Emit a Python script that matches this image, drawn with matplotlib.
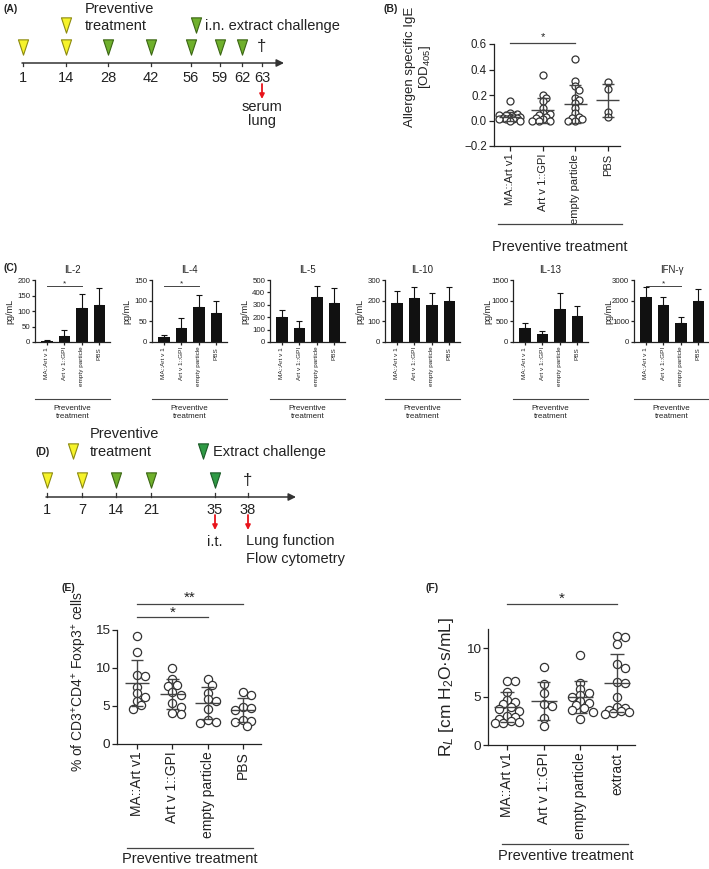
import numpy as np
import matplotlib
matplotlib.use('Agg')
import matplotlib.pyplot as plt
from matplotlib.path import Path

plt.rcParams['font.family'] = ['Liberation Sans', 'DejaVu Sans']
plt.rcParams['mathtext.fontset'] = 'custom'
plt.rcParams['mathtext.rm'] = 'Liberation Sans'
plt.rcParams['mathtext.it'] = 'Liberation Sans:italic'
plt.rcParams['mathtext.bf'] = 'Liberation Sans:bold'

# ---------------- DATA ----------------
# (A) timeline
A_days = [1, 14, 28, 42, 56, 59, 62, 63]
A_prev_days = [1, 14]
A_chal_days = [28, 42, 56, 59, 62]
A_end_day = 63
A_samples = ['serum', 'lung']

# (B) allergen specific IgE
B_groups = ['MA::Art v1', 'Art v 1::GPI', 'empty particle', 'PBS']
B_ma = [0.15, 0.06, 0.05, 0.04, 0.04, 0.03, 0.03, 0.02, 0.02, 0.02, 0.01, 0.01, 0.01, 0.0, 0.0]
B_gpi = [0.36, 0.20, 0.18, 0.15, 0.10, 0.06, 0.05, 0.04, 0.03, 0.02, 0.01, 0.0, 0.0, 0.0]
B_empty = [0.48, 0.31, 0.27, 0.24, 0.18, 0.16, 0.14, 0.10, 0.06, 0.03, 0.02, 0.01, 0.0, 0.0]
B_pbs = [0.30, 0.25, 0.07, 0.03]
B_mean = [0.03, 0.08, 0.13, 0.16]
B_sd = [0.035, 0.10, 0.15, 0.13]

# (C) cytokines
C_groups = ['MA::Art v 1', 'Art v 1::GPI', 'empty particle', 'PBS']
C_names = ['IL-2', 'IL-4', 'IL-5', 'IL-10', 'IL-13', 'IFN-γ']
C_mean = [[2, 19, 110, 118],
          [13, 35, 84, 71],
          [200, 112, 360, 312],
          [190, 212, 180, 200],
          [350, 190, 790, 620],
          [2200, 1780, 940, 1970]]
C_err = [[5, 20, 45, 57],
         [5, 24, 30, 27],
         [60, 55, 95, 120],
         [55, 55, 55, 65],
         [115, 80, 390, 260],
         [480, 400, 290, 600]]
C_ymax = [200, 150, 500, 300, 1500, 3000]
C_ystep = [50, 50, 100, 100, 500, 1000]
C_sig = [True, True, False, False, False, True]

# (D) timeline
D_days = [1, 7, 14, 21, 35, 38]
D_prev_days = [1, 7]
D_green_days = [14, 21]
D_chal_days = [35]
D_end_day = 38

# (E) Treg
E_groups = ['MA::Art v1', 'Art v 1::GPI', 'empty particle', 'PBS']
E_ma = [14.2, 12.1, 9.1, 8.9, 7.5, 6.7, 6.2, 5.7, 5.1, 4.6]
E_gpi = [10.0, 8.5, 7.8, 7.6, 6.9, 6.5, 5.4, 4.9, 4.1, 4.0]
E_empty = [8.5, 7.8, 6.7, 5.9, 5.6, 4.6, 3.2, 2.9, 2.8]
E_pbs = [6.9, 6.5, 4.9, 4.7, 4.5, 3.1, 3.0, 2.9, 2.4]
E_mean = [8.0, 6.55, 5.35, 4.45]
E_sd = [3.0, 2.0, 2.1, 1.55]

# (F) lung resistance
F_groups = ['MA::Art v1', 'Art v 1::GPI', 'empty particle', 'extract']
F_ma = [6.6, 6.6, 5.5, 4.7, 4.4, 4.2, 3.9, 3.7, 3.5, 3.0, 2.9, 2.7, 2.5, 2.4, 2.3, 2.3]
F_gpi = [8.1, 6.3, 5.4, 4.2, 4.0, 2.8, 2.0]
F_empty = [9.3, 6.4, 5.8, 5.4, 5.2, 5.0, 4.6, 4.3, 4.1, 3.8, 3.6, 3.4, 2.7]
F_extract = [11.3, 11.2, 10.5, 8.4, 8.0, 6.5, 6.4, 5.0, 3.9, 3.8, 3.6, 3.5, 3.4, 3.3, 3.2]
F_mean = [3.9, 4.55, 4.95, 6.4]
F_sd = [1.55, 1.95, 1.65, 3.0]

# ---------------- LAYOUT ----------------
W, H = 709, 869
fig = plt.figure(figsize=(W / 100, H / 100), dpi=100)
INK = '#222222'
LW = 0.9
YEL, YEL_E = '#f6f32a', '#8c8a10'
GRN, GRN_E = '#6fb02c', '#3b6614'
DGR, DGR_E = '#2f9a45', '#1b5a27'


def px_axes(x0, y0, x1, y1):
    return fig.add_axes([x0 / W, 1 - y1 / H, (x1 - x0) / W, (y1 - y0) / H])


def style(ax, fs_y, fs_x, tlen=3):
    for s in ['top', 'right']:
        ax.spines[s].set_visible(False)
    for s in ['left', 'bottom']:
        ax.spines[s].set_color(INK)
        ax.spines[s].set_linewidth(LW)
    ax.tick_params(axis='both', colors=INK, width=LW, length=tlen)
    ax.tick_params(axis='y', labelsize=fs_y, pad=1.5)
    ax.tick_params(axis='x', labelsize=fs_x, pad=2)
    ax.patch.set_alpha(0)


def swarm(ax, xc, ys, diam, fac, kmax):
    tr = ax.transData
    pts = tr.transform(np.column_stack([np.full(len(ys), xc), ys]))
    order = np.argsort(-np.asarray(ys))
    off = np.zeros(len(ys))
    placed = []
    cands = [0]
    for k in range(1, kmax + 1):
        cands += [k, -k]
    for i in order:
        x0, y0 = pts[i]
        best, best_d = 0, -1
        for k in cands:
            dx = k * diam * 0.5
            if placed:
                dmin = min(np.hypot(x0 + dx - px, y0 - py) for px, py in placed)
            else:
                dmin = 1e9
            if dmin >= fac * diam:
                best = dx
                break
            if dmin > best_d:
                best_d, best = dmin, dx
        placed.append((x0 + best, y0))
        off[i] = best
    return tr.inverted().transform(np.column_stack([pts[:, 0] + off, pts[:, 1]]))[:, 0]


def dot_panel(ax, groups, values, means, sds, xlim, ylim, yticks, diam, fac, kmax, fs_y, fs_x):
    ax.set_xlim(*xlim)
    ax.set_ylim(*ylim)
    ax.set_yticks(yticks)
    ax.set_xticks(range(len(groups)))
    ax.set_xticklabels(groups, rotation=90, ha='center', va='top')
    style(ax, fs_y, fs_x, tlen=3.5)
    for i, vals in enumerate(values):
        xs = swarm(ax, i, vals, diam, fac, kmax)
        ax.scatter(xs, vals, s=(0.72 * diam) ** 2, facecolors='white', edgecolors='#333333',
                   linewidths=0.9, zorder=3, clip_on=False)
        m, sd = means[i], sds[i]
        kw = dict(color='#444444', lw=1.0, zorder=4, solid_capstyle='butt')
        ax.plot([i - 0.35, i + 0.35], [m, m], **kw)
        ax.plot([i, i], [m - sd, m + sd], **kw)
        ax.plot([i - 0.18, i + 0.18], [m + sd, m + sd], **kw)
        ax.plot([i - 0.18, i + 0.18], [m - sd, m - sd], **kw)


def sig(ax, x0, x1, y, txt, fs, off=1.5, lw=0.9):
    ax.plot([x0, x1], [y, y], color='#444444', lw=lw, clip_on=False)
    ax.annotate(txt, xy=((x0 + x1) / 2, y), xytext=(0, off), textcoords='offset points',
                ha='center', va='baseline', fontsize=fs, color=INK, annotation_clip=False)


# ---- (B) ----
axB = px_axes(494, 44, 620, 146)
dot_panel(axB, B_groups, [B_ma, B_gpi, B_empty, B_pbs], B_mean, B_sd,
          (-0.49, 3.37), (-0.2, 0.6), [-0.2, 0.0, 0.2, 0.4, 0.6], 7.0, 0.6, 3, 8.3, 8)
axB.set_yticklabels(['−0.2', '0.0', '0.2', '0.4', '0.6'])
sig(axB, 0, 2, 0.608, '*', 8, off=2)
axB.text(-0.6, 0.78, 'Allergen specific IgE\n[OD$_{405}$]', transform=axB.transAxes,
         rotation=90, ha='center', va='center', fontsize=9.5, color=INK, linespacing=1.15)

# ---- (E) ----
axE = px_axes(117, 630, 261, 744)
dot_panel(axE, E_groups, [E_ma, E_gpi, E_empty, E_pbs], E_mean, E_sd,
          (-0.57, 3.51), (0, 15), [0, 5, 10, 15], 8.2, 0.7, 2, 9.7, 10)
sig(axE, 0, 3, 18.4, '**', 11, off=1.5)
sig(axE, 0, 2, 16.7, '*', 11, off=0.5)
axE.text(-0.257, 0.55, '% of CD3$^{+}$CD4$^{+}$ Foxp3$^{+}$ cells', transform=axE.transAxes,
         rotation=90, ha='center', va='center', fontsize=10, color=INK)

# ---- (F) ----
axF = px_axes(488, 629, 635, 745)
dot_panel(axF, F_groups, [F_ma, F_gpi, F_empty, F_extract], F_mean, F_sd,
          (-0.52, 3.49), (0, 12), [0, 5, 10], 8.2, 0.7, 3, 9.7, 10)
sig(axF, 0, 3, 14.6, '*', 11, off=1.0)
axF.text(-0.28, 0.5, 'R$_{L}$ [cm H$_{2}$O·s/mL]', transform=axF.transAxes,
         rotation=90, ha='center', va='center', fontsize=12.5, color=INK)

# ---- (C) ----
C_left = [35, 152, 270, 385, 513, 634]
C_w = 75
for k in range(6):
    ax = px_axes(C_left[k], 280, C_left[k] + C_w, 342)
    x = np.arange(4)
    ax.bar(x, C_mean[k], width=0.66, color='#111111', zorder=2)
    ax.errorbar(x, C_mean[k], yerr=[np.zeros(4), C_err[k]], fmt='none', ecolor='#111111',
                elinewidth=0.8, capsize=2.2, capthick=0.8, zorder=3, clip_on=False)
    ax.set_xlim(-0.68, 3.6)
    ax.set_ylim(0, C_ymax[k])
    ax.set_yticks(np.arange(0, C_ymax[k] + 1, C_ystep[k]))
    ax.set_xticks(x)
    ax.set_xticklabels(C_groups, rotation=90, ha='center', va='top')
    style(ax, 5.7, 4.6, tlen=2)
    ax.tick_params(axis='x', pad=1.5)
    ax.set_title(C_names[k], fontsize=7, pad=5, color=INK)
    ax.text(-0.34, 0.5, 'pg/mL', transform=ax.transAxes, rotation=90, ha='center',
            va='center', fontsize=6.5, color=INK)
    if C_sig[k]:
        sig(ax, 0, 2, 0.9 * C_ymax[k], '*', 6, off=0.8, lw=0.7)

# ---- overlay for schematic / annotations ----
ov = fig.add_axes([0, 0, 1, 1])
ov.set_xlim(0, W)
ov.set_ylim(H, 0)
ov.axis('off')

tri = Path([(-0.33, 0.5), (0.33, 0.5), (0.0, -0.5), (-0.33, 0.5)],
           [Path.MOVETO, Path.LINETO, Path.LINETO, Path.CLOSEPOLY])


def tri_mark(x, y, fc, ec, ms=11):
    ov.plot([x], [y], marker=tri, markersize=ms, markerfacecolor=fc, markeredgecolor=ec,
            markeredgewidth=0.8, linestyle='none')


def red_arrow(x, y0, y1):
    ov.annotate('', xy=(x, y1), xytext=(x, y0),
                arrowprops=dict(arrowstyle='-|>', color='#e8141b', lw=1.3, mutation_scale=7,
                                shrinkA=0, shrinkB=0))


FS = 10.5
# (A) schematic
A_pos = [23, 66, 108, 151, 191, 220, 242, 262]
A_axis_y = 63
ov.annotate('', xy=(284, A_axis_y), xytext=(22, A_axis_y),
            arrowprops=dict(arrowstyle='-|>', color='#333333', lw=1.1, mutation_scale=11,
                            shrinkA=0, shrinkB=0))
for d, xp in zip(A_days, A_pos):
    ov.plot([xp, xp], [A_axis_y, A_axis_y + 3], color='#333333', lw=0.9)
    ov.text(xp, 78, str(d), ha='center', va='center', fontsize=FS, color=INK)
    if d in A_prev_days:
        tri_mark(xp, 47, YEL, YEL_E)
    elif d in A_chal_days:
        tri_mark(xp, 47, GRN, GRN_E)
    elif d == A_end_day:
        ov.text(xp, 47, '†', ha='center', va='center', fontsize=12, color=INK)
        red_arrow(xp, 84, 99)
        ov.text(xp, 107, A_samples[0], ha='center', va='center', fontsize=FS, color=INK)
        ov.text(xp, 121, A_samples[1], ha='center', va='center', fontsize=FS, color=INK)
tri_mark(66, 25, YEL, YEL_E)
tri_mark(196, 25, GRN, GRN_E)
ov.text(85, 9, 'Preventive', ha='left', va='center', fontsize=FS, color=INK)
ov.text(85, 26, 'treatment', ha='left', va='center', fontsize=FS, color=INK)
ov.text(205, 26, 'i.n. extract challenge', ha='left', va='center', fontsize=FS, color=INK)

# (D) schematic
D_pos = [47, 82, 116, 151, 215, 248]
D_axis_y = 497
ov.annotate('', xy=(296, D_axis_y), xytext=(46, D_axis_y),
            arrowprops=dict(arrowstyle='-|>', color='#333333', lw=1.1, mutation_scale=11,
                            shrinkA=0, shrinkB=0))
for d, xp in zip(D_days, D_pos):
    ov.plot([xp, xp], [D_axis_y - 4, D_axis_y], color='#333333', lw=0.9)
    ov.text(xp, 510, str(d), ha='center', va='center', fontsize=FS, color=INK)
    if d in D_prev_days:
        tri_mark(xp, 480, YEL, YEL_E)
    elif d in D_green_days:
        tri_mark(xp, 480, GRN, GRN_E)
    elif d in D_chal_days:
        tri_mark(xp, 480, DGR, DGR_E)
        red_arrow(xp, 515, 530)
        ov.text(xp, 542, 'i.t.', ha='center', va='center', fontsize=FS, color=INK)
    elif d == D_end_day:
        ov.text(xp, 480, '†', ha='center', va='center', fontsize=12, color=INK)
        red_arrow(xp, 515, 530)
        ov.text(xp - 2, 541, 'Lung function', ha='left', va='center', fontsize=FS, color=INK)
        ov.text(xp - 2, 559, 'Flow cytometry', ha='left', va='center', fontsize=FS, color=INK)
tri_mark(73, 451, YEL, YEL_E)
tri_mark(203, 451, DGR, DGR_E)
ov.text(90, 434, 'Preventive', ha='left', va='center', fontsize=FS, color=INK)
ov.text(90, 452, 'treatment', ha='left', va='center', fontsize=FS, color=INK)
ov.text(213, 452, 'Extract challenge', ha='left', va='center', fontsize=FS, color=INK)

# group brackets "Preventive treatment"
ov.plot([498, 622], [224, 224], color='#444444', lw=0.9)
ov.text(560, 247, 'Preventive treatment', ha='center', va='center', fontsize=FS, color=INK)
ov.plot([127, 253], [848, 848], color='#444444', lw=0.9)
ov.text(190, 859, 'Preventive treatment', ha='center', va='center', fontsize=FS, color=INK)
ov.plot([502, 628], [844, 844], color='#444444', lw=0.9)
ov.text(566, 856, 'Preventive treatment', ha='center', va='center', fontsize=FS, color=INK)
for xl in C_left:
    ov.plot([xl, xl + C_w], [399, 399], color='#444444', lw=0.8)
    ov.text(xl + C_w / 2, 408, 'Preventive', ha='center', va='center', fontsize=5.8, color=INK)
    ov.text(xl + C_w / 2, 417, 'treatment', ha='center', va='center', fontsize=5.8, color=INK)

# panel letters
for lab, xp, yp in [('(A)', 3, 9), ('(B)', 383, 9), ('(C)', 3, 268), ('(D)', 36, 452),
                    ('(E)', 62, 588), ('(F)', 425, 588)]:
    ov.text(xp, yp, lab, ha='left', va='center', fontsize=7.5, fontweight='bold', color=INK)

fig.savefig('out.png', dpi=100)
